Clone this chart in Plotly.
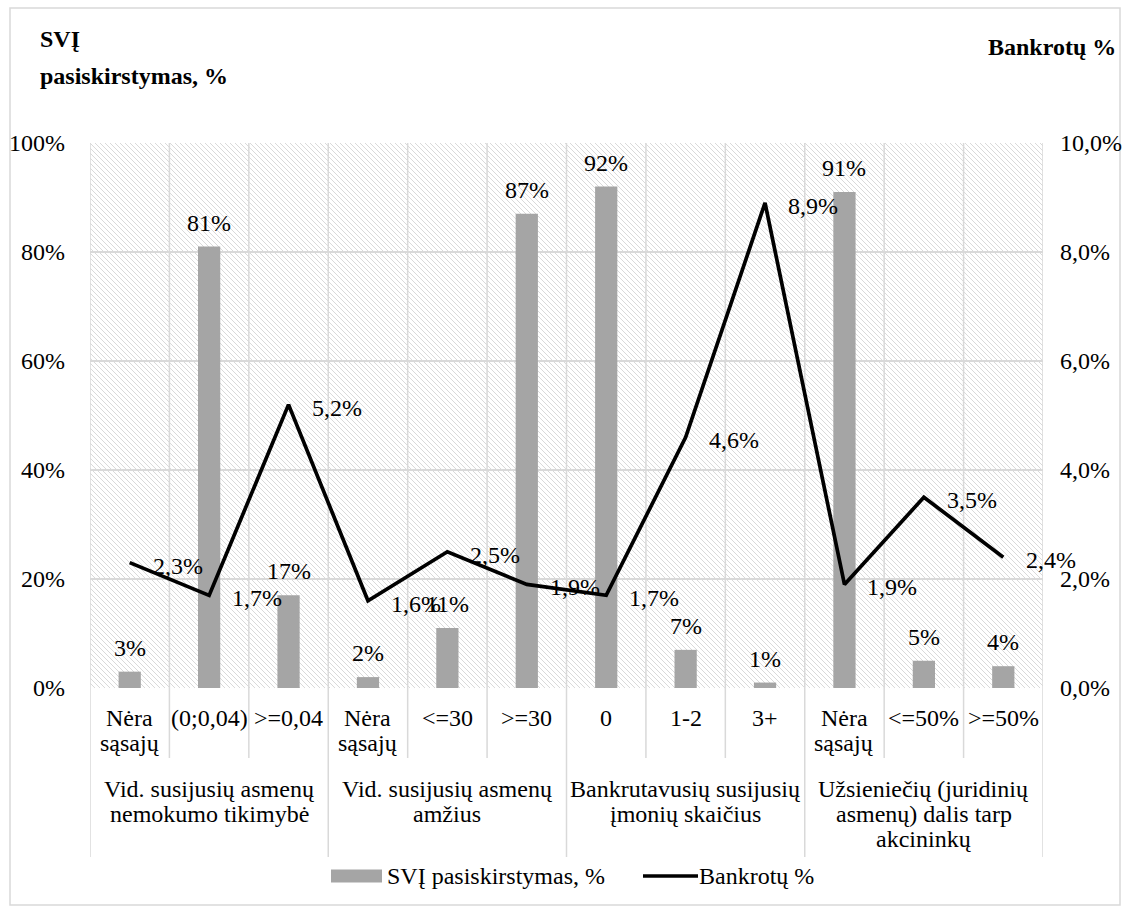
import base64
import plotly.graph_objects as go

# Category labels (one list entry per text line)
cat_labels = [["Nėra", "sąsajų"], ["(0;0,04)"], ["&gt;=0,04"],
              ["Nėra", "sąsajų"], ["&lt;=30"], ["&gt;=30"],
              ["0"], ["1-2"], ["3+"],
              ["Nėra", "sąsajų"], ["&lt;=50%"], ["&gt;=50%"]]
group_labels = [["Vid. susijusių asmenų", "nemokumo tikimybė"],
                ["Vid. susijusių asmenų", "amžius"],
                ["Bankrutavusių susijusių", "įmonių skaičius"],
                ["Užsieniečių (juridinių", "asmenų) dalis tarp", "akcininkų"]]
group_sizes = [3, 3, 3, 3]

svi_share = [3, 81, 17, 2, 11, 87, 92, 7, 1, 91, 5, 4]                         # %
bankruptcy_rate = [2.3, 1.7, 5.2, 1.6, 2.5, 1.9, 1.7, 4.6, 8.9, 1.9, 3.5, 2.4]  # %

left_ticks = [0, 20, 40, 60, 80, 100]
right_ticks = [0, 2, 4, 6, 8, 10]

BAR_NAME = "SVĮ pasiskirstymas, %"
LINE_NAME = "Bankrotų %"
LEFT_TITLE = ["SVĮ", "pasiskirstymas, %"]
RIGHT_TITLE = "Bankrotų %"

FONT = "Times New Roman, Liberation Serif, DejaVu Serif, serif"
FS = 24
GRID = "#d9d9d9"
BAR_COLOR = "#a5a5a5"
W, H = 1128, 912
ML, MR, MT, MB = 90, 85, 143, 224
PW, PH = W - ML - MR, H - MT - MB


def comma(v, nd):
    return f"{v:.{nd}f}".replace(".", ",")


def py(pix):
    return (MT + PH - pix) / PH


def px(pix):
    return (pix - ML) / PW


xs = list(range(len(svi_share)))
txt = dict(family=FONT, size=FS, color="black")

fig = go.Figure()
fig.add_trace(go.Bar(
    x=xs, y=svi_share, width=0.28, name=BAR_NAME,
    marker=dict(color=BAR_COLOR, line=dict(width=0)),
))
fig.add_trace(go.Scatter(
    x=xs, y=bankruptcy_rate, yaxis="y2", mode="lines", name=LINE_NAME,
    line=dict(color="black", width=3.7), cliponaxis=False,
))

annotations = []
# bar value labels above each bar
for i, v in enumerate(svi_share):
    annotations.append(dict(
        x=i, y=v, xref="x", yref="y", text=f"{v}%", showarrow=False,
        xanchor="center", yanchor="bottom", yshift=9, font=txt,
    ))
# line value labels, to the right of each point
for i, v in enumerate(bankruptcy_rate):
    annotations.append(dict(
        x=i, y=v, xref="x", yref="y2", text=comma(v, 1) + "%",
        showarrow=False, xanchor="left", yanchor="middle", xshift=21, yshift=-3,
        font=txt,
    ))

LINE_STEP = 25
# category tick labels
for i, lines in enumerate(cat_labels):
    for k, t in enumerate(lines):
        annotations.append(dict(
            x=i, y=py(718), xref="x", yref="paper", text=t, showarrow=False,
            xanchor="center", yanchor="middle", yshift=-LINE_STEP * k, font=txt,
        ))
# group labels
start = 0
bounds = [0]
for g, n in zip(group_labels, group_sizes):
    centre = start + (n - 1) / 2
    for k, t in enumerate(g):
        annotations.append(dict(
            x=centre, y=py(789), xref="x", yref="paper", text=t, showarrow=False,
            xanchor="center", yanchor="middle", yshift=-LINE_STEP * k, font=txt,
        ))
    start += n
    bounds.append(start)

# axis titles
title_font = dict(family=FONT, size=24, color="black")
for k, t in enumerate(LEFT_TITLE):
    annotations.append(dict(
        x=px(38), y=py(39), xref="paper", yref="paper", showarrow=False,
        text=f"<b>{t}</b>", xanchor="left", yanchor="middle", yshift=-37 * k,
        font=title_font,
    ))
annotations.append(dict(
    x=px(1118), y=py(47), xref="paper", yref="paper", showarrow=False,
    text=f"<b>{RIGHT_TITLE}</b>", xanchor="right", yanchor="middle", font=title_font,
))

shapes = []
# vertical separators of the category table
for k in range(len(svi_share) + 1):
    bottom = py(857) if k in bounds else py(758)
    shapes.append(dict(type="line", xref="x", yref="paper", x0=k - 0.5, x1=k - 0.5,
                       y0=1, y1=bottom, line=dict(color=GRID, width=1.5), layer="below"))
# outer chart frame
shapes.append(dict(type="rect", xref="paper", yref="paper",
                   x0=px(10), x1=px(1120), y0=py(905), y1=py(8),
                   line=dict(color=GRID, width=1.5), layer="below"))

# legend: wide bar swatch and line swatch with their names
LEG_Y = py(876)
shapes.append(dict(type="rect", xref="paper", yref="paper",
                   x0=px(331), x1=px(382), y0=LEG_Y - 6.5 / PH, y1=LEG_Y + 6.5 / PH,
                   fillcolor=BAR_COLOR, line=dict(width=0)))
annotations.append(dict(x=px(385), y=LEG_Y, xref="paper", yref="paper", text=BAR_NAME,
                        showarrow=False, xanchor="left", yanchor="middle", font=txt))
shapes.append(dict(type="line", xref="paper", yref="paper",
                   x0=px(643), x1=px(698), y0=LEG_Y, y1=LEG_Y,
                   line=dict(color="black", width=3.7)))
annotations.append(dict(x=px(697), y=LEG_Y, xref="paper", yref="paper", text=LINE_NAME,
                        showarrow=False, xanchor="left", yanchor="middle", font=txt))

# diagonal hatch texture for the plotting area
tile = 5
cells = "".join(
    f'<rect x="{a}" y="{a}" width="1" height="1" fill="#d9d9d9"/>' for a in range(tile)
)
svg = (f'<svg xmlns="http://www.w3.org/2000/svg" width="{PW}" height="{PH}">'
       f'<defs><pattern id="h" width="{tile}" height="{tile}" patternUnits="userSpaceOnUse">'
       f'{cells}</pattern></defs><rect width="{PW}" height="{PH}" fill="url(#h)"/></svg>')
hatch_src = "data:image/svg+xml;base64," + base64.b64encode(svg.encode()).decode()

fig.update_layout(
    width=W, height=H, margin=dict(l=ML, r=MR, t=MT, b=MB, pad=0, autoexpand=False),
    paper_bgcolor="white", plot_bgcolor="white",
    font=txt, barmode="overlay", showlegend=False,
    xaxis=dict(range=[-0.5, len(svi_share) - 0.5], showticklabels=False, showgrid=False,
               zeroline=False, showline=False, ticks="", automargin=False),
    yaxis=dict(range=[0, 100], tickmode="array", tickvals=left_ticks,
               ticktext=[f"{v}%" for v in left_ticks], showgrid=True,
               gridcolor=GRID, gridwidth=1.5, zeroline=False, showline=False, ticks="",
               ticklabelstandoff=24, tickfont=txt, automargin=False),
    yaxis2=dict(range=[0, 10], tickmode="array", tickvals=right_ticks,
                ticktext=[comma(v, 1) + "%" for v in right_ticks],
                overlaying="y", side="right", showgrid=False, zeroline=False,
                showline=False, ticks="", ticklabelstandoff=16, tickfont=txt,
                automargin=False),
    annotations=annotations, shapes=shapes,
    images=[dict(source=hatch_src, xref="paper", yref="paper", x=0, y=1, sizex=1, sizey=1,
                 xanchor="left", yanchor="top", sizing="stretch", layer="below")],
)

fig.write_html("out.html")
